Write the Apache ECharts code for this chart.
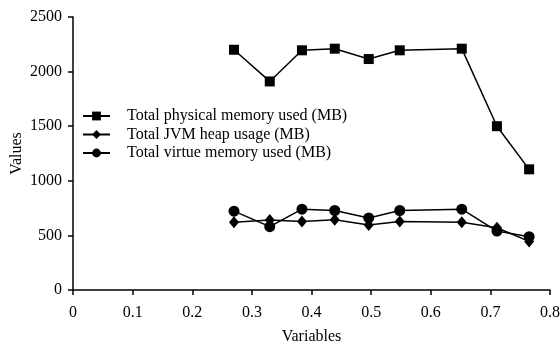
<!DOCTYPE html>
<html>
<head>
<meta charset="utf-8">
<script src="https://cdn.jsdelivr.net/npm/echarts@6/dist/echarts.min.js"></script>
<style>
  html, body { margin: 0; padding: 0; background: #fff; }
  #chart { width: 560px; height: 346px; }
</style>
</head>
<body>
<div id="chart"></div>
<script>
var xVals = [0.270, 0.330, 0.384, 0.439, 0.496, 0.548, 0.652, 0.711, 0.765];
var physical = [2200, 1910, 2195, 2210, 2115, 2195, 2210, 1500, 1105];
var jvmHeap = [620, 640, 628, 643, 595, 628, 620, 570, 445];
var virtueMem = [722, 580, 740, 728, 660, 728, 740, 540, 488];
var seriesNames = ['Total physical memory used (MB)', 'Total JVM heap usage (MB)', 'Total virtue memory used (MB)'];

function pairs(ys) {
    return xVals.map(function (x, i) { return [x, ys[i]]; });
}

var font = '"Liberation Serif", "Times New Roman", serif';
var chart = echarts.init(document.getElementById('chart'));

function lineSeries(name, data, symbol, size) {
    return {
        name: name,
        type: 'line',
        data: pairs(data),
        symbol: symbol,
        symbolSize: size,
        showAllSymbol: true,
        lineStyle: { color: '#000', width: 1.5 },
        itemStyle: { color: '#000', borderWidth: 0 },
        emphasis: { disabled: true }
    };
}

var option = {
    animation: false,
    grid: { left: 73, right: 10, top: 17, bottom: 56, outerBoundsMode: 'none', containLabel: false },
    legend: {
        orient: 'vertical',
        left: 77,
        top: 103,
        itemWidth: 27,
        itemHeight: 11,
        itemGap: 2.5,
        data: seriesNames,
        textStyle: { fontFamily: font, fontSize: 16, lineHeight: 16, color: '#000', padding: [0, 0, 0, 12] }
    },
    xAxis: {
        type: 'value',
        min: 0,
        max: 0.8,
        interval: 0.1,
        name: 'Variables',
        nameLocation: 'middle',
        nameGap: 39,
        nameMoveOverlap: false,
        nameTextStyle: { fontFamily: font, fontSize: 16, color: '#000' },
        axisLine: { show: true, lineStyle: { color: '#000', width: 1.5 } },
        axisTick: { show: true, length: 5, lineStyle: { color: '#000', width: 1.5 } },
        axisLabel: { fontFamily: font, fontSize: 16, color: '#000', margin: 15 },
        splitLine: { show: false }
    },
    yAxis: {
        type: 'value',
        min: 0,
        max: 2500,
        interval: 500,
        name: 'Values',
        nameLocation: 'middle',
        nameRotate: 90,
        nameGap: 48,
        nameMoveOverlap: false,
        nameTextStyle: { fontFamily: font, fontSize: 16, color: '#000' },
        axisLine: { show: true, lineStyle: { color: '#000', width: 1.5 } },
        axisTick: { show: true, length: 5, lineStyle: { color: '#000', width: 1.5 } },
        axisLabel: {
            fontFamily: font, fontSize: 16, color: '#000', margin: 11,
            formatter: function (v) { return String(v); }
        },
        splitLine: { show: false }
    },
    series: [
        lineSeries(seriesNames[0], physical, 'rect', 10),
        lineSeries(seriesNames[1], jvmHeap, 'diamond', [10, 12]),
        lineSeries(seriesNames[2], virtueMem, 'circle', 11)
    ]
};
chart.setOption(option);
</script>
</body>
</html>
